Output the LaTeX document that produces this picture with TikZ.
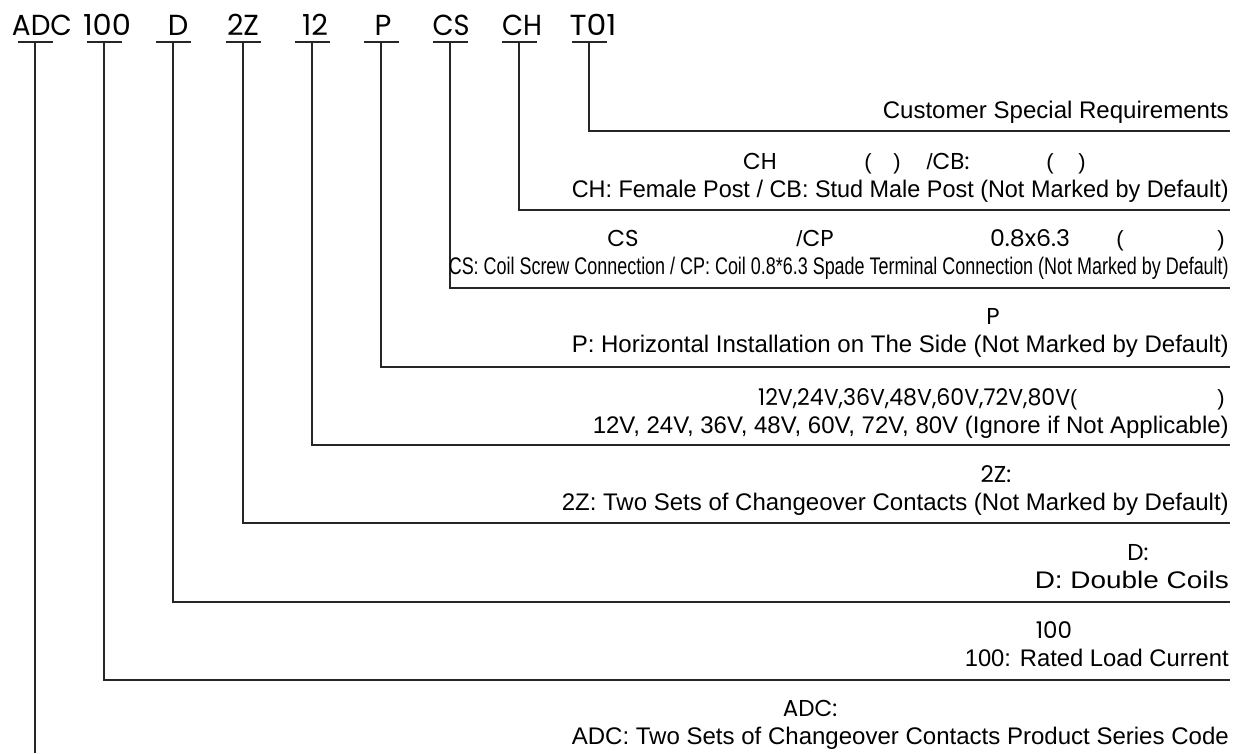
\documentclass[tikz,border=0pt]{standalone}
\usepackage{fontspec}
\usepackage{graphicx}
\setmainfont{Liberation Sans}
\newfontfamily\codefont{Poppins}
\newcommand{\fitw}[2]{\resizebox{#1pt}{\height}{#2}}
\newcommand{\plainsl}{{\normalfont\fontsize{22}{22}\selectfont /}}
\begin{document}
\begin{tikzpicture}[x=1pt,y=-1pt,
  code/.style={font=\codefont\fontsize{29}{29}\selectfont, anchor=base, inner sep=0pt},
  zh/.style={font=\codefont\fontsize{23}{23}\selectfont, anchor=base, inner sep=0pt},
  zp/.style={font=\normalfont\fontsize{22}{22}\selectfont, anchor=base, inner sep=0pt},
  en/.style={font=\fontsize{24}{26}\selectfont, anchor=base east, inner sep=0pt},
  ln/.style={line width=1.3pt, draw=black!85},
  ul/.style={line width=1.3pt, draw=black!85}]
\useasboundingbox (0,0) rectangle (1240,753);

% code letters
\node[code] (kADC) at (42,35) {\fitw{60}{ADC}};
\node[code] (k100) at (107,35) {\fitw{48}{100}};
\node[code] (kD)   at (178,35) {D};
\node[code] (k2Z)  at (243,35) {\fitw{32}{2Z}};
\node[code] (k12)  at (315,35) {12};
\node[code] (kP)   at (383,35) {P};
\node[code] (kCS)  at (451,35) {\fitw{37}{CS}};
\node[code] (kCH)  at (522,35) {\fitw{40}{CH}};
\node[code] (kT01) at (593,35) {\fitw{47}{T01}};

% underlines, verticals and horizontal leaders
\foreach \n/\x/\y in {T01/589/131, CH/519/210, CS/450/288, P/381/367, 12/312/445, 2Z/243/523, D/173/602, 100/104/680}{
  \coordinate (ua\n) at (\x-17.5,42);
  \coordinate (ub\n) at (\x+17.5,42);
  \coordinate (top\n) at (\x,42);
  \coordinate (bend\n) at (\x,\y);
  \coordinate (end\n) at (1230,\y);
  \draw[ul] (ua\n) -- (ub\n);
  \draw[ln] (top\n) -- (bend\n) -- (end\n);
}
\coordinate (uaADC) at (17.5,42);
\coordinate (ubADC) at (52.5,42);
\coordinate (topADC) at (35,42);
\coordinate (endADC) at (35,753);
\draw[ul] (uaADC) -- (ubADC);
\draw[ln] (topADC) -- (endADC);

% labels
\node[en] (lT01) at (1229,118) {\fitw{346}{Customer Special Requirements}};

\node[zh] (zCHa) at (760,169) {CH};
\node[zp] (zCHb) at (868,169) {(};
\node[zp] (zCHc) at (897,169) {)};
\node[zh] (zCHd) at (948,169) {\plainsl CB:};
\node[zp] (zCHe) at (1050,169) {(};
\node[zp] (zCHf) at (1082,169) {)};
\node[en] (lCH) at (1229,197) {\fitw{657}{CH: Female Post / CB: Stud Male Post (Not Marked by Default)}};

\node[zh] (zCSa) at (623,246) {CS};
\node[zh] (zCSb) at (815,246) {\plainsl CP};
\node[zh] (zCSc) at (1030,246) {\fitw{80}{0.8x6.3}};
\node[zp] (zCSd) at (1120,246) {(};
\node[zp] (zCSe) at (1221,246) {)};
\node[en] (lCS) at (1229,274) {\fitw{780}{CS: Coil Screw Connection / CP: Coil 0.8*6.3 Spade Terminal Connection (Not Marked by Default)}};

\node[zh] (zPa) at (993,324) {P};
\node[en] (lP) at (1229,352) {\fitw{657}{P: Horizontal Installation on The Side (Not Marked by Default)}};

\node[zh, anchor=base west] (z12a) at (758,405) {\fitw{319}{12V,24V,36V,48V,60V,72V,80V{\normalfont\fontsize{22}{22}\selectfont(}}};
\node[zp] (z12b) at (1221,405) {)};
\node[en] (l12) at (1229,433) {\fitw{636}{12V, 24V, 36V, 48V, 60V, 72V, 80V (Ignore if Not Applicable)}};

\node[zh] (z2Za) at (996,482) {2Z:};
\node[en] (l2Z) at (1229,510) {\fitw{667}{2Z: Two Sets of Changeover Contacts (Not Marked by Default)}};

\node[zh] (zDa) at (1138,560) {D:};
\node[en] (lD) at (1229,588) {\fitw{194}{D: Double Coils}};

\node[zh] (z100a) at (1054,638) {100};
\node[en] (l100) at (1229,666) {\fitw{264}{100: Rated Load Current}};

\node[zh] (zADCa) at (810,716) {ADC:};
\node[en] (lADC) at (1229,744) {\fitw{657}{ADC: Two Sets of Changeover Contacts Product Series Code}};
\end{tikzpicture}
\end{document}
